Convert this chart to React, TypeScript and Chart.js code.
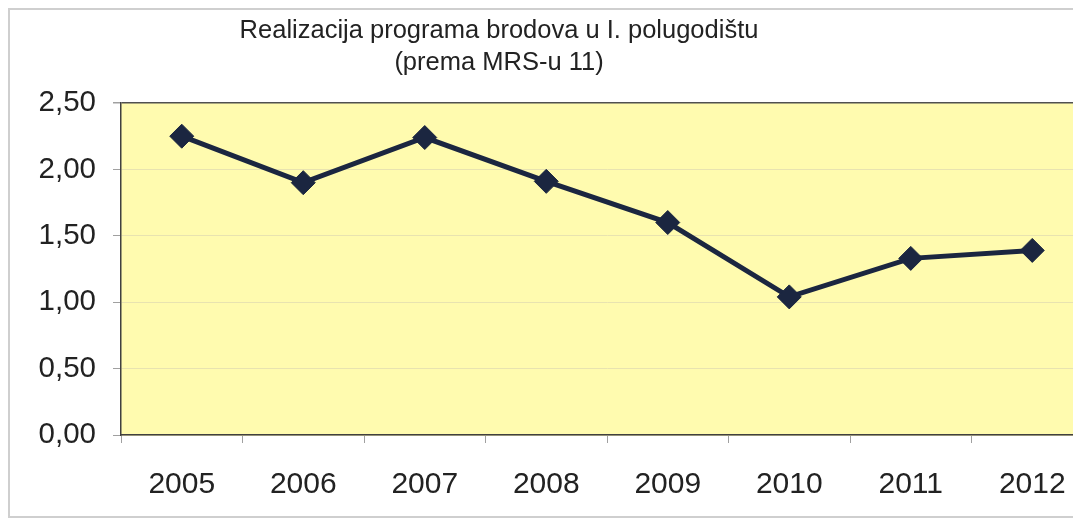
import React, { useEffect, useRef } from "react";
import { Chart, registerables } from "chart.js";

Chart.register(...registerables);

const categories = ["2005", "2006", "2007", "2008", "2009", "2010", "2011", "2012"];
const values = [2.25, 1.9, 2.24, 1.91, 1.6, 1.04, 1.33, 1.39];
const titleLines = ["Realizacija programa brodova u I. polugodištu", "(prema MRS-u 11)"];
const yTicks = [0, 0.5, 1, 1.5, 2, 2.5];

const FONT = "'Liberation Sans', Arial, sans-serif";

export default function App() {
  const ref = useRef<HTMLCanvasElement | null>(null);

  useEffect(() => {
    document.documentElement.style.overflow = "hidden";
    document.body.style.overflow = "hidden";
    if (!ref.current) return;
    const bgPlugin = {
      id: "bgPlugin",
      beforeDraw(chart: any) {
        const { ctx, chartArea } = chart;
        ctx.save();
        ctx.fillStyle = "#ffffff";
        ctx.fillRect(0, 0, chart.width, chart.height);
        ctx.fillStyle = "#fffbaf";
        ctx.fillRect(chartArea.left, chartArea.top, chartArea.right - chartArea.left, chartArea.bottom - chartArea.top);
        ctx.restore();
      },
      afterDraw(chart: any) {
        const { ctx } = chart;
        ctx.save();
        ctx.fillStyle = "#222222";
        ctx.font = `25.5px ${FONT}`;
        ctx.textAlign = "center";
        ctx.textBaseline = "alphabetic";
        ctx.fillText(titleLines[0], 489, 28);
        ctx.fillText(titleLines[1], 489, 60);
        ctx.restore();
      },
    };

    const chart = new Chart(ref.current, {
      type: "line",
      data: {
        labels: categories,
        datasets: [
          {
            data: values,
            borderColor: "#1b2640",
            backgroundColor: "#1b2640",
            borderWidth: 5,
            pointStyle: "rectRot",
            pointRadius: 12,
            pointBackgroundColor: "#1b2640",
            pointBorderColor: "#1b2640",
            pointBorderWidth: 1,
            tension: 0,
          },
        ],
      },
      options: {
        animation: false,
        responsive: false,
        devicePixelRatio: 1,
        layout: { padding: { top: 93, left: 0, right: 6, bottom: 0 } },
        plugins: {
          legend: { display: false },
          title: { display: false },
          tooltip: { enabled: false },
        },
        scales: {
          x: {
            offset: true,
            grid: {
              offset: true,
              drawOnChartArea: false,
              drawTicks: true,
              tickLength: 8,
              tickColor: "#a0a0a0",
            },
            border: { color: "#404040", width: 1.5 },
            ticks: {
              font: { family: FONT, size: 30 },
              color: "#222222",
              padding: 24,
              maxRotation: 0,
            },
            afterFit(scale: any) {
              scale.height = 81;
            },
          },
          y: {
            min: 0,
            max: 2.5,
            afterBuildTicks(scale: any) {
              scale.ticks = yTicks.map((v) => ({ value: v }));
            },
            grid: {
              color: (c: any) => (c.tick && c.tick.value === 2.5 ? "#505050" : "#e8e3b0"),
              lineWidth: (c: any) => (c.tick && c.tick.value === 2.5 ? 1.5 : 1),
              tickLength: 8,
              tickColor: "#a0a0a0",
            },
            border: { color: "#404040", width: 1.5 },
            ticks: {
              font: { family: FONT, size: 29.5 },
              color: "#222222",
              padding: 17,
              callback: (v: any) => Number(v).toFixed(2).replace(".", ","),
            },
            afterFit(scale: any) {
              scale.width = 111;
            },
          },
        },
      },
      plugins: [bgPlugin],
    });
    return () => chart.destroy();
  }, []);

  return (
    <div style={{ width: 1073, height: 510, overflow: "hidden" }}>
      <div
        style={{
          width: 1100,
          height: 510,
          border: "2px solid #cfcfcf",
          boxSizing: "border-box",
          background: "#fff",
        }}
      >
        <canvas ref={ref} width={1096} height={506} style={{ display: "block" }} />
      </div>
    </div>
  );
}
